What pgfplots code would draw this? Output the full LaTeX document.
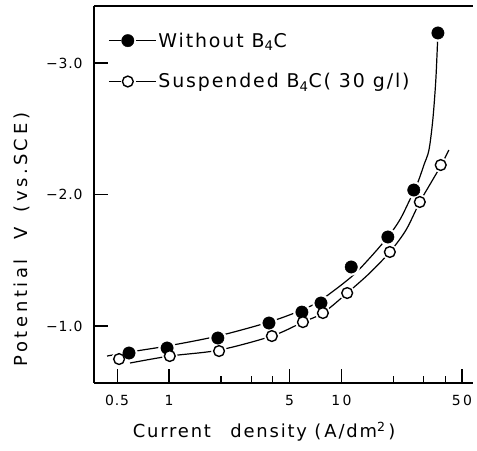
\documentclass[border=0pt]{standalone}
\usepackage{fontspec}
\setmainfont{DejaVu Sans}
\newfontfamily\labfont[LetterSpace=10]{DejaVu Sans}
\newfontfamily\ylabfont[LetterSpace=20]{DejaVu Sans}
\newfontfamily\legfont[LetterSpace=10]{DejaVu Sans}
\newfontfamily\tickfont[LetterSpace=6]{DejaVu Sans}
\usepackage{pgfplots}
\pgfplotsset{compat=1.18}

\begin{document}
\begin{tikzpicture}
\useasboundingbox (-94bp,-68bp) rectangle (383bp,383bp);
\begin{axis}[
  at={(0,0)}, anchor=south west,
  scale only axis, width=379bp, height=377bp,
  xmode=log, xmin=0.367, xmax=58,
  ymin=-3.433, ymax=-0.567, y dir=reverse,
  axis x line*=box, axis y line*=left,
  xtick pos=bottom, ytick pos=left,
  tick align=inside,
  axis line style={black, line width=1.6bp},
  xtick={0.5,1,5,10,50}, xticklabels={0.5,1,5,1\,0,5\,0},
  minor xtick={2,3,4,20,30,40},
  ytick={-3,-2,-1}, yticklabels={−3.0,−2.0,−1.0},
  major tick length=14bp, minor tick length=7bp,
  tick style={black, line width=1.3bp},
  x tick label style={font=\fontsize{14}{14}\selectfont\tickfont, yshift=-9bp},
  y tick label style={font=\fontsize{14}{14}\selectfont\tickfont, xshift=-8bp},
  xlabel={\labfont Current\hspace{12bp} density (\,A/dm\textsuperscript{2}\,)},
  xlabel style={font=\fontsize{18}{18}\selectfont, at={(axis description cs:0.449,-0.13)}, anchor=center},
  ylabel={\ylabfont Potential\hspace{10bp} V\hspace{6bp} (vs.\,SCE)},
  ylabel style={font=\fontsize{18}{18}\selectfont, at={(axis description cs:-0.19,0.38)}, anchor=center},
  legend style={draw=none, fill=none, at={(axis description cs:0.037,0.935)}, anchor=north west,
    font=\fontsize{19}{19}\selectfont\legfont, row sep=21bp, inner sep=0pt},
  legend cell align=left,
  legend image code/.code={
    \draw[black, line width=1.2bp] (0bp,0bp) -- (12bp,0bp) (27bp,0bp) -- (47bp,0bp);
    \draw[#1] plot coordinates {(19bp,0bp)};
  },
]
% fitted curves
\addplot[black, line width=1.2bp, smooth, tension=0.5, forget plot] coordinates {
  (0.437,-0.772) (0.586,-0.802) (0.974,-0.848) (1.92,-0.924) (3.80,-1.030)
  (5.90,-1.122) (7.61,-1.198) (11.4,-1.373) (14.6,-1.517) (18.6,-1.677)
  (21.8,-1.806) (24.9,-1.958) (27.8,-2.095) (30.1,-2.224) (32.2,-2.338)
  (33.9,-2.567) (35.3,-2.871) (36.3,-3.228)
};
\addplot[black, line width=1.2bp, smooth, tension=0.5, forget plot] coordinates {
  (0.594,-0.719) (1.01,-0.772) (1.95,-0.817) (3.95,-0.924) (5.98,-1.030)
  (7.81,-1.099) (10.8,-1.251) (14.6,-1.403) (19.1,-1.563) (23.7,-1.730)
  (28.5,-1.943) (33.0,-2.087) (37.7,-2.217) (42.0,-2.338)
};
% white gaps round the markers
\addplot[white, only marks, mark=*, mark size=8.5bp, mark options={draw=white, fill=white}, forget plot] coordinates {
  (0.586,-0.795) (0.974,-0.833) (1.92,-0.909) (3.80,-1.023) (5.90,-1.106)
  (7.61,-1.175) (11.4,-1.449) (18.6,-1.677) (26.3,-2.034) (36.3,-3.228)
};
\addplot[white, only marks, mark=*, mark size=7.5bp, mark options={draw=white, fill=white}, forget plot] coordinates {
  (0.513,-0.749) (1.01,-0.772) (1.95,-0.810) (3.95,-0.924) (5.98,-1.030)
  (7.81,-1.099) (10.8,-1.251) (19.1,-1.563) (28.5,-1.943) (37.7,-2.224)
};
% Without B4C
\addplot[black, only marks, mark=*, mark size=6.2bp, mark options={draw=black, fill=black}] coordinates {
  (0.586,-0.795) (0.974,-0.833) (1.92,-0.909) (3.80,-1.023) (5.90,-1.106)
  (7.61,-1.175) (11.4,-1.449) (18.6,-1.677) (26.3,-2.034) (36.3,-3.228)
};
\addlegendentry{Without B\textsubscript{4}C}
% Suspended B4C (30 g/l)
\addplot[black, only marks, mark=*, mark size=5.4bp, mark options={draw=black, fill=white, line width=1.4bp}] coordinates {
  (0.513,-0.749) (1.01,-0.772) (1.95,-0.810) (3.95,-0.924) (5.98,-1.030)
  (7.81,-1.099) (10.8,-1.251) (19.1,-1.563) (28.5,-1.943) (37.7,-2.224)
};
\addlegendentry{Suspended B\textsubscript{4}C( 30 g/l)}
\end{axis}
\end{tikzpicture}
\end{document}
